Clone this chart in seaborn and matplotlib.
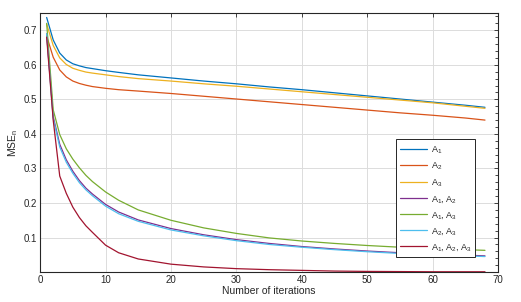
import numpy as np
import pandas as pd
import matplotlib
matplotlib.use("Agg")
import matplotlib.pyplot as plt
import seaborn as sns
from matplotlib.ticker import MultipleLocator

iters = [1, 2, 3, 4, 5, 6, 7, 8, 10, 12, 15, 20, 25, 30, 35, 40, 45, 50, 55, 60, 65, 68]

a1 = [0.737, 0.672, 0.634, 0.614, 0.603, 0.597, 0.592, 0.589, 0.583, 0.578, 0.571, 0.562,
      0.553, 0.545, 0.536, 0.528, 0.519, 0.510, 0.501, 0.492, 0.483, 0.477]
a2 = [0.683, 0.622, 0.585, 0.565, 0.553, 0.546, 0.541, 0.537, 0.532, 0.528, 0.524, 0.517,
      0.509, 0.501, 0.493, 0.485, 0.477, 0.469, 0.461, 0.454, 0.446, 0.440]
a3 = [0.718, 0.656, 0.620, 0.601, 0.590, 0.584, 0.579, 0.576, 0.571, 0.566, 0.560, 0.553,
      0.545, 0.538, 0.530, 0.522, 0.514, 0.506, 0.498, 0.490, 0.480, 0.474]
a12 = [0.690, 0.450, 0.370, 0.325, 0.292, 0.265, 0.243, 0.226, 0.196, 0.174, 0.151, 0.126,
       0.108, 0.094, 0.083, 0.074, 0.067, 0.061, 0.056, 0.052, 0.049, 0.047]
a13 = [0.720, 0.470, 0.398, 0.357, 0.327, 0.302, 0.280, 0.262, 0.232, 0.208, 0.180, 0.150,
       0.128, 0.112, 0.099, 0.090, 0.083, 0.077, 0.072, 0.068, 0.065, 0.063]
a23 = [0.690, 0.445, 0.362, 0.318, 0.286, 0.259, 0.238, 0.221, 0.191, 0.169, 0.147, 0.122,
       0.105, 0.091, 0.080, 0.072, 0.065, 0.059, 0.054, 0.050, 0.047, 0.045]
a123 = [0.680, 0.440, 0.278, 0.228, 0.188, 0.158, 0.134, 0.115, 0.078, 0.056, 0.038, 0.023,
        0.015, 0.010, 0.007, 0.005, 0.003, 0.002, 0.0015, 0.001, 0.001, 0.001]

labels = ["A$_1$", "A$_2$", "A$_3$", "A$_1$, A$_2$", "A$_1$, A$_3$", "A$_2$, A$_3$", "A$_1$, A$_2$, A$_3$"]
series = [a1, a2, a3, a12, a13, a23, a123]
colors = ["#0072BD", "#D95319", "#EDB120", "#7E2F8E", "#77AC30", "#4DBEEE", "#A2142F"]

df = pd.concat([pd.DataFrame({"iter": iters, "mse": s, "case": lab})
                for s, lab in zip(series, labels)], ignore_index=True)

sns.set_style("whitegrid")
plt.rcParams['font.family'] = ['Liberation Sans', 'DejaVu Sans']
plt.rcParams['mathtext.default'] = 'regular'
plt.rcParams['xtick.direction'] = 'in'
plt.rcParams['ytick.direction'] = 'in'

fig = plt.figure(figsize=(5.21, 3.02), dpi=100)
ax = fig.add_axes([0.077, 0.099, 0.879, 0.858])

sns.lineplot(data=df, x="iter", y="mse", hue="case", palette=colors,
             hue_order=labels, linewidth=0.9, ax=ax)

ax.set_xlim(0, 70)
ax.set_ylim(0, 0.75)
ax.set_xticks(range(0, 71, 10))
ax.set_yticks([0.1, 0.2, 0.3, 0.4, 0.5, 0.6, 0.7])
ax.yaxis.set_minor_locator(MultipleLocator(0.02))
ax.tick_params(axis="both", which="both", top=True, right=True, labelsize=7,
               color="#262626", length=3, width=0.6, pad=2)
ax.tick_params(axis="y", which="minor", length=2)
ax.grid(True, which="major", color="#dcdcdc", linewidth=0.7)
for sp in ax.spines.values():
    sp.set_color("#262626")
    sp.set_linewidth(0.8)

ax.set_xlabel("Number of iterations", fontsize=7.5, labelpad=1)
ax.set_ylabel("MSE$_n$", fontsize=7.5, labelpad=3)

leg = ax.legend(loc="lower right", bbox_to_anchor=(0.95, 0.06), borderaxespad=0,
                fontsize=6.5, frameon=True, fancybox=False, handlelength=3.0,
                handletextpad=0.4, labelspacing=0.45, borderpad=0.4)
leg.get_frame().set_edgecolor("#262626")
leg.get_frame().set_linewidth(0.7)
leg.get_frame().set_alpha(1)

fig.savefig("out.png", dpi=100)
